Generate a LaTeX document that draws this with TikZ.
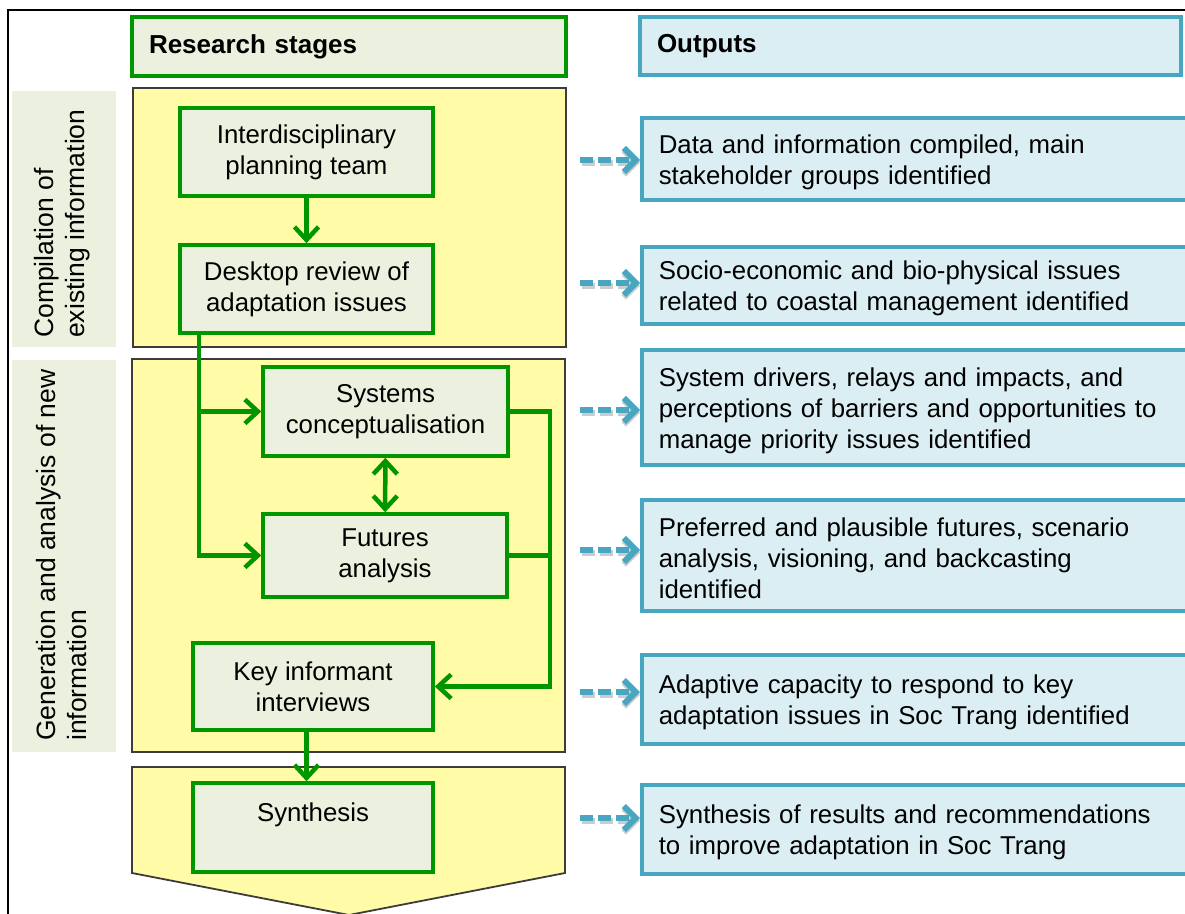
\documentclass[tikz,border=0pt]{standalone}
\usepackage{fontspec}
\setmainfont{Liberation Sans}
\usetikzlibrary{arrows.meta,calc}
\definecolor{grn}{RGB}{0,150,0}
\definecolor{grnfill}{RGB}{235,241,222}
\definecolor{yel}{RGB}{255,251,166}
\definecolor{blu}{RGB}{72,166,192}
\definecolor{blufill}{RGB}{219,238,244}
\definecolor{panelline}{RGB}{60,60,60}
% taller first line so the output texts sit a little lower in their boxes
\newcommand{\outstrut}{\rule{0pt}{25pt}}
\begin{document}
\begin{tikzpicture}[x=1pt,y=-1pt,
  every node/.style={font=\fontsize{25.8}{31}\selectfont, text=black},
  stagebox/.style={draw=grn, line width=3.6pt, fill=grnfill, align=center, inner sep=0pt},
  headgrn/.style={draw=grn, line width=3.6pt, fill=grnfill, align=left, inner xsep=17pt, inner ysep=0pt,
    minimum height=59pt, font=\fontsize{26}{30}\selectfont\bfseries},
  headblu/.style={draw=blu, line width=3.6pt, fill=blufill, align=left, inner xsep=17pt, inner ysep=0pt,
    minimum height=58pt, font=\fontsize{26}{30}\selectfont\bfseries},
  outbox/.style={draw=blu, line width=3.6pt, fill=blufill, align=left, anchor=north west,
    inner xsep=17pt, inner ysep=0pt, text width=526pt},
  sidebox/.style={fill=grnfill, inner sep=0pt},
  sidetext/.style={rotate=90, anchor=west, align=left, inner sep=0pt, font=\fontsize{26.5}{31}\selectfont},
  panel/.style={draw=panelline, line width=1.8pt, fill=yel, inner sep=0pt},
  tipg/.tip={Straight Barb[length=13pt,width=24pt]},
  flow/.style={draw=grn, line width=4.5pt, -tipg},
  flowboth/.style={draw=grn, line width=4.5pt, tipg-tipg},
  outarrow/.style={blu, line width=6pt, dash pattern=on 13pt off 5pt, -{Straight Barb[length=12pt,width=24pt]}},
  outshadow/.style={black!20, line width=6pt, dash pattern=on 13pt off 5pt, -{Straight Barb[length=12pt,width=24pt]}},
]
\useasboundingbox (0,0) rectangle (1185,913);
\fill[white] (0,0) rectangle (1185,913);
\clip (0,0) rectangle (1185,913);

% outer frame
\draw[line width=2.2pt] (1200,10) -- (8,10) -- (8,930);

% column headers
\node[headgrn, text width=400pt] (hstages) at (349,46.5) {Research stages};
\node[headblu, text width=507pt] (houts) at (910.5,46) {Outputs};

% phase labels on the left
\node[sidebox, minimum width=104pt, minimum height=256pt] (lab1) at (64,219) {};
\node[sidetext] (lab1txt) at (62,338) {Compilation of\\existing information};
\node[sidebox, minimum width=104pt, minimum height=392pt] (lab2) at (64,556) {};
\node[sidetext] (lab2txt) at (62,741) {Generation and analysis of new\\information};

% yellow phase panels
\node[panel, minimum width=433pt, minimum height=259pt] (p1) at (349.5,217.5) {};
\node[panel, minimum width=433pt, minimum height=393pt] (p2) at (348.5,555.5) {};
\draw[draw=panelline, line width=1.8pt, fill=yel]
  (132,767) -- (565,767) -- (565,873) -- (349,915) -- (132,873) -- cycle;

% research stages
\node[stagebox, minimum width=253pt, minimum height=88pt] (ipt) at (306.5,152) {Interdisciplinary\\planning team};
\node[stagebox, minimum width=253pt, minimum height=88pt] (dr) at (306.5,289) {Desktop review of\\adaptation issues};
\node[stagebox, minimum width=245pt, minimum height=89pt] (sc) at (385.5,411.5) {Systems\\conceptualisation};
\node[stagebox, minimum width=244pt, minimum height=83pt] (fa) at (385,555.5) {Futures\\analysis};
\node[stagebox, minimum width=240pt, minimum height=87pt] (ki) at (313,686.5) {Key informant\\interviews};
\node[stagebox, minimum width=240pt, minimum height=89pt] (syn) at (313,827.5) {Synthesis\\\mbox{}};

% flow between stages
\draw[flow] (ipt) -- (dr);
\coordinate (bus) at ($(dr.south west)+(21,0)$);
\draw[flow] (bus) |- (fa.west);
\draw[flow] (bus |- sc.west) -- (sc.west);
\draw[flowboth] (sc) -- (fa);
\coordinate (rbus) at (550,411);
\draw[flow] (sc.east) -- (sc.east -| rbus) |- (ki.east);
\draw[draw=grn, line width=4.5pt] (fa.east) -- (fa.east -| rbus);
\draw[flow] (ki.south -| ipt.south) -- (syn.north -| ipt.south);

% outputs
\node[outbox, minimum width=560pt, minimum height=82pt] (o1) at (640,116)
  {\outstrut Data and information compiled, main\\stakeholder groups identified};
\node[outbox, minimum width=560pt, minimum height=77pt] (o2) at (640,245)
  {\outstrut Socio-economic and bio-physical issues\\related to coastal management identified};
\node[outbox, minimum width=560pt, minimum height=115pt] (o3) at (640,348)
  {\outstrut System drivers, relays and impacts, and\\perceptions of barriers and opportunities to\\manage priority issues identified};
\node[outbox, minimum width=560pt, minimum height=111pt] (o4) at (640,498)
  {\outstrut Preferred and plausible futures, scenario\\analysis, visioning, and backcasting\\identified};
\node[outbox, minimum width=560pt, minimum height=89pt] (o5) at (640,653)
  {\outstrut Adaptive capacity to respond to key\\adaptation issues in Soc Trang identified};
\node[outbox, minimum width=560pt, minimum height=89pt] (o6) at (640,783)
  {\outstrut Synthesis of results and recommendations\\to improve adaptation in Soc Trang};

% dashed links from stages to outputs
\foreach \n/\yy in {1/160,2/283,3/410,4/550,5/692,6/818}{
  \coordinate (s\n) at (580,\yy);
  \coordinate (sh\n) at (581.5,\yy+2.5);
  \draw[outshadow] (sh\n) -- (sh\n -| o\n.west);
  \draw[outarrow] (s\n) -- (s\n -| o\n.west);
}
\end{tikzpicture}
\end{document}
